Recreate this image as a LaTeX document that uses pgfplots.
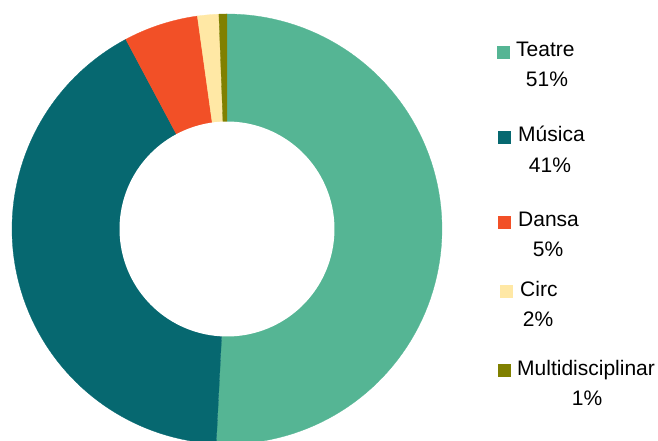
\documentclass[border=0pt]{standalone}
\usepackage{pgfplots}
\pgfplotsset{compat=1.18}
\usepackage{fontspec}
\setmainfont{Liberation Sans}
\definecolor{cTeatre}{HTML}{55B594}
\definecolor{cMusica}{HTML}{066870}
\definecolor{cDansa}{HTML}{F25027}
\definecolor{cCirc}{HTML}{FFE8A5}
\definecolor{cMulti}{HTML}{808000}
\begin{document}
\begin{tikzpicture}
% shares in percent (clockwise from top)
\def\vTeatre{50.8}
\def\vMusica{41.4}
\def\vDansa{5.6}
\def\vCirc{1.6}
\def\vMulti{0.6}
\pgfmathsetmacro{\bA}{\vTeatre}
\pgfmathsetmacro{\bB}{\bA+\vMusica}
\pgfmathsetmacro{\bC}{\bB+\vDansa}
\pgfmathsetmacro{\bD}{\bC+\vCirc}
\pgfmathsetmacro{\bE}{\bD+\vMulti}
\begin{axis}[scale only axis, width=658bp, height=441bp,
  xmin=-1.0558, xmax=2.0047, ymin=-0.9860, ymax=1.0651,
  hide axis, clip=true]
\addplot[fill=cTeatre, draw=cTeatre, line width=0.3pt, domain=0:\bA, samples=90, variable=\t] ({sin(3.6*\t)},{cos(3.6*\t)}) -- (0,0) -- cycle;
\addplot[fill=cMusica, draw=cMusica, line width=0.3pt, domain=\bA:\bB, samples=80, variable=\t] ({sin(3.6*\t)},{cos(3.6*\t)}) -- (0,0) -- cycle;
\addplot[fill=cDansa, draw=cDansa, line width=0.3pt, domain=\bB:\bC, samples=20, variable=\t] ({sin(3.6*\t)},{cos(3.6*\t)}) -- (0,0) -- cycle;
\addplot[fill=cCirc, draw=cCirc, line width=0.3pt, domain=\bC:\bD, samples=10, variable=\t] ({sin(3.6*\t)},{cos(3.6*\t)}) -- (0,0) -- cycle;
\addplot[fill=cMulti, draw=cMulti, line width=0.3pt, domain=\bD:\bE, samples=5, variable=\t] ({sin(3.6*\t)},{cos(3.6*\t)}) -- (0,0) -- cycle;
\addplot[fill=white, draw=none, domain=0:360, samples=150] ({0.5*cos(x)},{0.5*sin(x)}) -- cycle;
\end{axis}
\pgfresetboundingbox
\useasboundingbox (current axis.south west) rectangle (current axis.north east);
\begin{scope}[x=1bp, y=-1bp, yshift=441bp, every node/.style={inner sep=0pt, font=\fontsize{21bp}{25bp}\selectfont}]
\fill[cTeatre] (497,46) rectangle (510,59);
\node[anchor=base west] at (516,57) {Teatre};
\node[anchor=base] at (547,87) {51\%};
\fill[cMusica] (498,131) rectangle (511,144);
\node[anchor=base west] at (518,142) {Música};
\node[anchor=base] at (550,173) {41\%};
\fill[cDansa] (498,216) rectangle (511,229);
\node[anchor=base west] at (518,227) {Dansa};
\node[anchor=base] at (548,257) {5\%};
\fill[cCirc] (500,285) rectangle (513,298);
\node[anchor=base west] at (520,297) {Circ};
\node[anchor=base] at (538,327) {2\%};
\fill[cMulti] (498,364) rectangle (511,377);
\node[anchor=base west] at (517,376) {Multidisciplinar};
\node[anchor=base] at (587,406) {1\%};
\end{scope}
\end{tikzpicture}
\end{document}
